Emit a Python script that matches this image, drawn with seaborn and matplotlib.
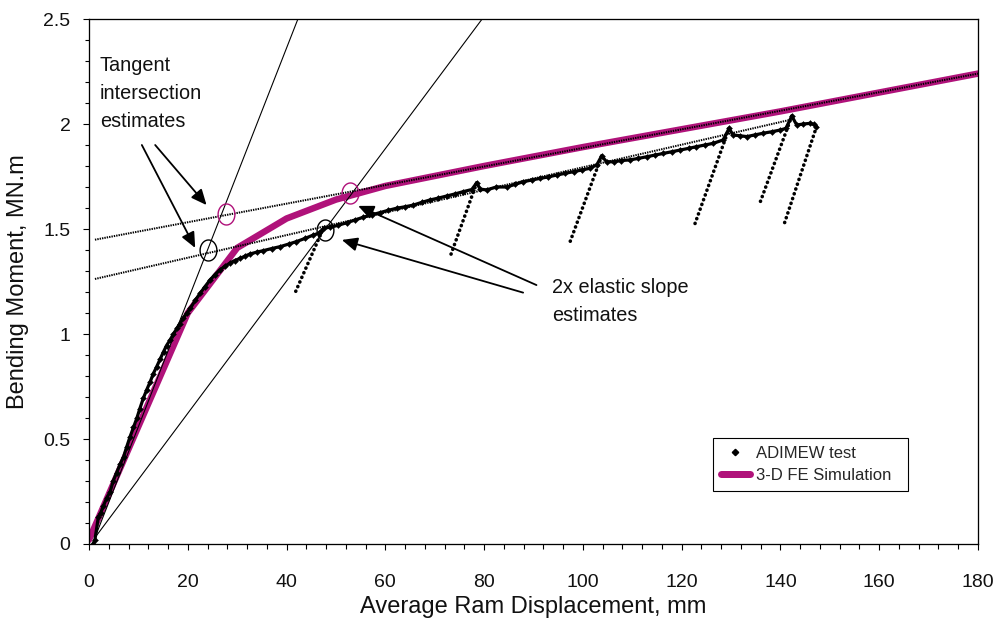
import numpy as np
import pandas as pd
import matplotlib
matplotlib.use("Agg")
import matplotlib.pyplot as plt
from matplotlib import font_manager
from matplotlib.lines import Line2D
from matplotlib.path import Path
from matplotlib.ticker import MultipleLocator, FuncFormatter
import seaborn as sns

# 3-D FE simulation: bending moment (MN.m) vs average ram displacement (mm)
fe_disp = [0, 20, 30, 40, 50, 60, 80, 100, 120, 140, 160, 180]
fe_moment = [0.02, 1.10, 1.41, 1.55, 1.64, 1.705, 1.80, 1.89, 1.975, 2.06, 2.15, 2.24]

# ADIMEW test: loading envelope
test_disp = [0.8, 1.2, 1.9, 2.4, 2.9, 3.6, 4.3, 4.9, 5.6, 6.3,
             7.0, 7.6, 8.3, 9.0, 9.7, 10.3, 11.0, 11.7, 12.4, 13.0,
             13.7, 14.4, 15.1, 15.7, 16.4, 17.1, 17.8, 18.4, 19.1, 19.8,
             20.5, 21.5, 22.5, 23.5, 24.5, 25.5, 26.5, 27.5, 28.5, 29.5,
             30.6, 31.6, 32.6, 34.0, 35.3, 37.0, 38.7, 40.4, 42.0, 43.7,
             45.4, 46.5, 47.6, 48.8, 50.5, 52.2, 53.9, 55.5, 57.2, 58.9,
             60.6, 62.3, 64.0, 65.7, 67.4, 69.0, 70.7, 72.4, 74.1, 75.8,
             77.5, 78.5, 79.2, 80.5, 82.5, 84.6, 86.2, 87.9, 89.6, 91.3,
             93.0, 94.7, 96.4, 98.1, 99.8, 101.4, 102.8, 103.8, 104.8, 106.2,
             107.8, 109.5, 111.2, 112.9, 114.6, 116.3, 118.0, 119.7, 121.4, 123.0,
             124.7, 126.4, 128.4, 129.6, 130.4, 131.8, 133.2, 134.8, 136.5, 138.2,
             139.9, 141.1, 142.3, 143.3, 144.6, 146.0, 146.8, 147.3]
test_moment = [0.00, 0.02, 0.13, 0.15, 0.18, 0.22, 0.25, 0.30, 0.34, 0.38,
               0.415, 0.46, 0.51, 0.555, 0.60, 0.645, 0.694, 0.735, 0.773, 0.81,
               0.844, 0.88, 0.916, 0.945, 0.971, 1.00, 1.027, 1.05, 1.075, 1.10,
               1.122, 1.16, 1.194, 1.226, 1.257, 1.283, 1.305, 1.322, 1.337, 1.35,
               1.36, 1.371, 1.381, 1.39, 1.397, 1.407, 1.416, 1.428, 1.44, 1.455,
               1.471, 1.48, 1.505, 1.508, 1.518, 1.53, 1.543, 1.556, 1.567, 1.578,
               1.589, 1.599, 1.606, 1.614, 1.627, 1.638, 1.647, 1.657, 1.667, 1.678,
               1.688, 1.72, 1.69, 1.686, 1.70, 1.70, 1.712, 1.725, 1.733, 1.741,
               1.748, 1.757, 1.765, 1.773, 1.781, 1.789, 1.805, 1.848, 1.82, 1.82,
               1.826, 1.829, 1.836, 1.844, 1.852, 1.86, 1.868, 1.876, 1.884, 1.892,
               1.90, 1.908, 1.924, 1.979, 1.948, 1.944, 1.94, 1.948, 1.956, 1.963,
               1.971, 1.979, 2.038, 1.995, 2.0, 2.003, 1.998, 1.987]

# ADIMEW test: unload / reload cycles (upper and lower ends of each cycle)
cycle_top_disp = [47.2, 78.5, 103.8, 129.6, 142.3, 147.3]
cycle_top_moment = [1.49, 1.72, 1.848, 1.979, 2.038, 1.987]
cycle_low_disp = [41.8, 73.3, 97.2, 122.4, 135.9, 140.8]
cycle_low_moment = [1.20, 1.38, 1.426, 1.506, 1.628, 1.527]

# Construction lines: elastic slope, 2x elastic slope, plastic tangents
elastic_disp = [1.2, 42.3]
elastic_moment = [0.03, 2.5]
elastic2x_disp = [1.2, 79.6]
elastic2x_moment = [0.03, 2.5]
fe_tangent_disp = [1.2, 180.0]
fe_tangent_moment = [1.449, 2.24]
test_tangent_disp = [1.2, 142.0]
test_tangent_moment = [1.262, 2.02]

# Limit-moment estimates where the construction lines intersect
fe_est_disp = [27.8, 52.9]
fe_est_moment = [1.571, 1.671]
test_est_disp = [24.1, 47.8]
test_est_moment = [1.40, 1.497]

MAGENTA = "#B0127A"
INK = "#111111"
PX = 72 / 100  # points per pixel at 100 dpi

sns.set_theme(style="ticks")
plt.rcParams["font.family"] = ["Liberation Sans", "DejaVu Sans"]
plt.rcParams["axes.linewidth"] = 1.3 * PX

# a narrow face suits the condensed lettering of the labels, if it is installed
_names = {f.name for f in font_manager.fontManager.ttflist}
if "Liberation Sans Narrow" in _names:
    LABEL_FAMILY = ["Liberation Sans Narrow", "DejaVu Sans"]
    ANN_FS, LEG_FS, AX_FS = 17, 14.5, 20.5
else:
    LABEL_FAMILY = ["Liberation Sans", "DejaVu Sans"]
    ANN_FS, LEG_FS, AX_FS = 14.3, 12, 17

fig = plt.figure(figsize=(10.02, 6.23), dpi=100)
ax = fig.add_axes([89 / 1002, 1 - 544 / 623, (978 - 89) / 1002, (544 - 19) / 623])

# FE simulation curve (underneath everything else)
sns.lineplot(x=fe_disp, y=fe_moment, sort=False, estimator=None, color=MAGENTA,
             lw=6.5 * PX, ax=ax, zorder=2)

# construction lines
for xs, ys in [(elastic_disp, elastic_moment), (elastic2x_disp, elastic2x_moment)]:
    sns.lineplot(x=xs, y=ys, sort=False, estimator=None, color="black",
                 lw=1.1 * PX, ax=ax, zorder=3)
for xs, ys in [(fe_tangent_disp, fe_tangent_moment), (test_tangent_disp, test_tangent_moment)]:
    sns.lineplot(x=xs, y=ys, sort=False, estimator=None, color="black",
                 lw=2.0 * PX, linestyle=(0, (0.7, 0.5)), ax=ax, zorder=3)

# test unload/reload cycles drawn as beaded strokes between their end points
cyc_x, cyc_y, cyc_id = [], [], []
for i in range(len(cycle_top_disp)):
    cyc_x += [cycle_top_disp[i], cycle_low_disp[i]]
    cyc_y += [cycle_top_moment[i], cycle_low_moment[i]]
    cyc_id += [i, i]
cycles = pd.DataFrame({"disp": cyc_x, "moment": cyc_y, "cycle": cyc_id})
sns.lineplot(data=cycles, x="disp", y="moment", units="cycle", estimator=None,
             sort=False, color="black", lw=3.6 * PX, linestyle=(0, (0.05, 1.35)),
             dash_capstyle="round", ax=ax, zorder=4)

# test loading envelope
sns.lineplot(x=test_disp, y=test_moment, sort=False, estimator=None, color="black",
             lw=3.2 * PX, marker="D", markersize=4.2 * PX, markeredgecolor="black",
             markeredgewidth=0.3, ax=ax, zorder=4)

# ring markers at the intersection estimates
t = np.linspace(0, 2 * np.pi, 73)
ring = Path(np.column_stack([0.8 * np.cos(t), np.sin(t)]))
for xs, ys, col in [(fe_est_disp, fe_est_moment, MAGENTA), (test_est_disp, test_est_moment, "black")]:
    sns.lineplot(x=xs, y=ys, sort=False, estimator=None, linestyle="none",
                 marker=ring, markersize=21 * PX, markerfacecolor="none",
                 markeredgecolor=col, markeredgewidth=1.4 * PX, ax=ax, zorder=5)

# annotations
arrow_kw = dict(arrowstyle="-|>,head_length=0.85,head_width=0.38", color="black",
                lw=1.8 * PX, shrinkA=0, shrinkB=0, mutation_scale=11)
for tail, head in [((10.7, 1.90), (21.5, 1.41)), ((13.4, 1.90), (23.8, 1.614)),
                   ((90.6, 1.233), (54.5, 1.61)), ((87.9, 1.197), (51.2, 1.448))]:
    ax.annotate("", xy=head, xytext=tail, arrowprops=arrow_kw, zorder=6)

ax.text(2.2, 2.325, "Tangent\nintersection\nestimates", ha="left", va="top",
        fontsize=ANN_FS, family=LABEL_FAMILY, linespacing=1.6, color=INK)
ax.text(93.7, 1.268, "2x elastic slope\nestimates", ha="left", va="top",
        fontsize=ANN_FS, family=LABEL_FAMILY, linespacing=1.6, color=INK)

# axes, ticks and labels
ax.set_xlim(0, 180)
ax.set_ylim(0, 2.5)
ax.xaxis.set_major_locator(MultipleLocator(20))
ax.xaxis.set_minor_locator(MultipleLocator(4))
ax.yaxis.set_major_locator(MultipleLocator(0.5))
ax.yaxis.set_minor_locator(MultipleLocator(0.1))
ax.yaxis.set_major_formatter(FuncFormatter(lambda v, _: f"{v:g}"))
ax.tick_params(which="major", direction="out", length=6 * PX, width=1.1 * PX,
               color="black", labelsize=14, labelcolor=INK)
ax.tick_params(which="minor", direction="out", length=4.5 * PX, width=1.1 * PX,
               color="black")
ax.tick_params(axis="x", which="major", pad=17)
ax.tick_params(axis="y", which="major", pad=9)
for side in ["left", "right", "top", "bottom"]:
    ax.spines[side].set_visible(True)
    ax.spines[side].set_color("black")

ax.set_xlabel("Average Ram Displacement, mm", fontsize=AX_FS, family=LABEL_FAMILY, color=INK)
ax.set_ylabel("Bending Moment, MN.m", fontsize=AX_FS, family=LABEL_FAMILY, color=INK)
ax.xaxis.set_label_coords(0.5, -0.1)
ax.yaxis.set_label_coords(-0.068, 0.5)

handles = [Line2D([], [], color="black", marker="D", linestyle="none",
                  markersize=4.5 * PX),
           Line2D([], [], color=MAGENTA, lw=7 * PX)]
leg = ax.legend(handles, ["ADIMEW test", "3-D FE Simulation"],
                loc="upper left", bbox_to_anchor=(713 / 1002, (623 - 498) / 623, 195 / 1002, 60 / 623),
                bbox_transform=fig.transFigure, mode="expand", borderaxespad=0,
                prop={"family": LABEL_FAMILY, "size": LEG_FS},
                handlelength=1.75 * 12 / LEG_FS, handletextpad=0.4 * 12 / LEG_FS,
                borderpad=0.45 * 12 / LEG_FS, labelspacing=0.45 * 12 / LEG_FS,
                frameon=True, fancybox=False, framealpha=1)
leg.get_frame().set_edgecolor("black")
leg.get_frame().set_linewidth(1.1 * PX)

fig.savefig("out.png", dpi=100)
